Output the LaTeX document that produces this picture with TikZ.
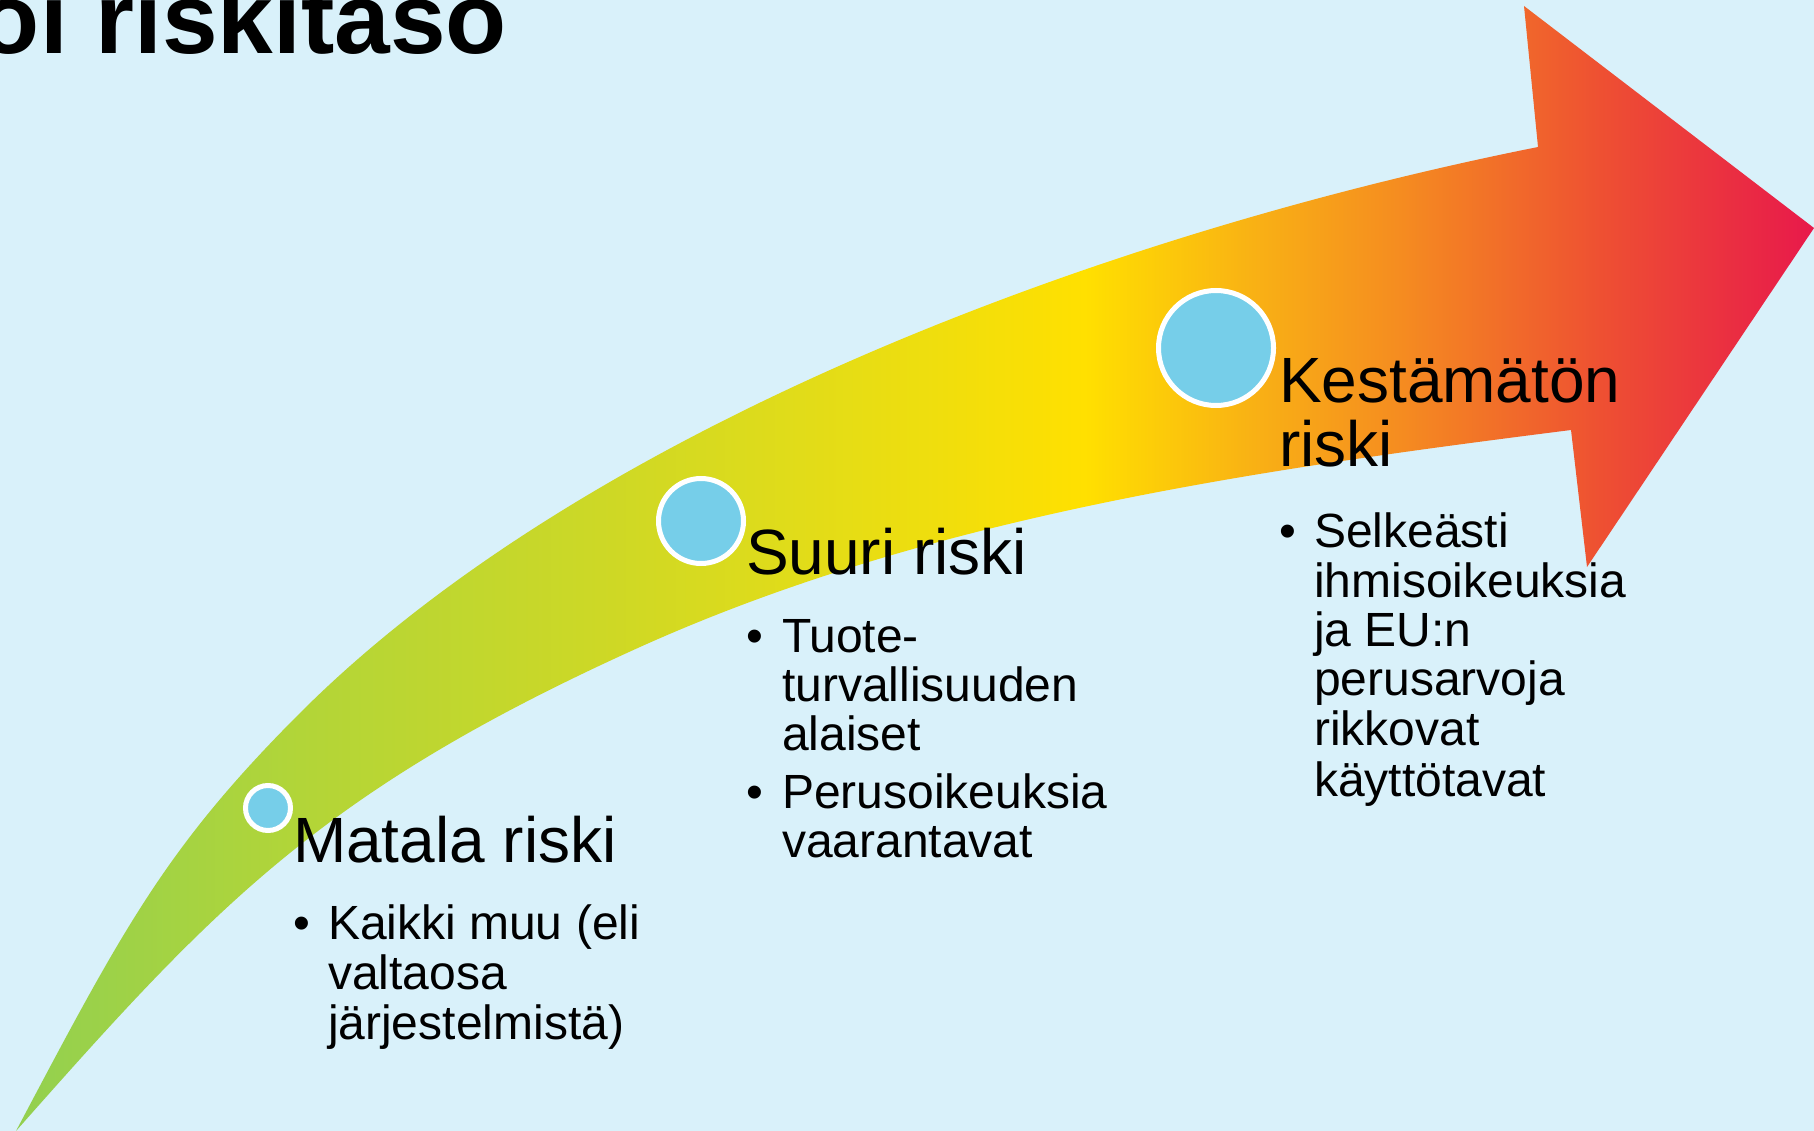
\documentclass[tikz,border=0pt]{standalone}
\usepackage{fontspec}
\setmainfont{Liberation Sans}
\definecolor{bgblue}{RGB}{217,241,250}
\definecolor{dotblue}{RGB}{118,206,233}
\definecolor{g0}{RGB}{146,208,80}
\definecolor{g1}{RGB}{178,213,56}
\definecolor{g2}{RGB}{205,216,38}
\definecolor{g3}{RGB}{225,220,25}
\definecolor{g4}{RGB}{255,224,0}
\definecolor{g5}{RGB}{249,178,20}
\definecolor{g6}{RGB}{245,140,32}
\definecolor{g7}{RGB}{238,80,50}
\definecolor{g8}{RGB}{232,25,75}
\pgfdeclarehorizontalshading{riskshade}{100bp}{color(0bp)=(g0); color(25bp)=(g0); color(32.94bp)=(g1); color(41.28bp)=(g2); color(46.83bp)=(g3); color(54.75bp)=(g4); color(59.33bp)=(g5); color(63.5bp)=(g6); color(69.06bp)=(g7); color(75bp)=(g8); color(100bp)=(g8)}
\tikzset{
  headtxt/.style={anchor=base west, inner sep=0pt, outer sep=0pt, font=\fontsize{64}{66}\selectfont},
  itemtxt/.style={anchor=base west, inner sep=0pt, outer sep=0pt, font=\fontsize{48}{50}\selectfont},
  bultxt/.style={anchor=base, inner sep=0pt, outer sep=0pt, font=\fontsize{48}{50}\selectfont},
  riskdot/.style={circle, fill=dotblue, draw=white, line width=5pt, inner sep=0pt, outer sep=0pt},
  titletxt/.style={anchor=base west, inner sep=0pt, outer sep=0pt, font=\fontsize{100}{102}\selectfont\bfseries}
}
\begin{document}
\begin{tikzpicture}[x=1pt,y=-1pt]
\useasboundingbox (0,0) rectangle (1814,1131);
\fill[bgblue] (0,0) rectangle (1814,1131);
% curved arrow
\begin{scope}
\clip (16,1131)
  .. controls (124,927) and (166,847) .. (300,713)
  .. controls (583,430) and (1097,235) .. (1538,147)
  -- (1524,6) -- (1814,228) -- (1587,567) -- (1571,430)
  .. controls (1255,470) and (931,516) .. (640,647)
  .. controls (321,791) and (215,906) .. (16,1131)
  -- cycle;
\shade[shading=riskshade] (14,0) rectangle (1814,1131);
\end{scope}
% title
\node[titletxt] (title) at (-21,54) {oi riskitaso};
% circles
\node[riskdot, minimum size=45pt] (c1) at (268,808) {};
\node[riskdot, minimum size=85pt] (c2) at (701,521) {};
\node[riskdot, minimum size=115pt] (c3) at (1216,348) {};
% Matala riski
\node[headtxt] (h1) at (293,862) {Matala riski};
\node[bultxt] (b11) at (302,939) {•};
\node[itemtxt] (t11) at (328,939) {Kaikki muu (eli};
\node[itemtxt] (t12) at (328,989) {valtaosa};
\node[itemtxt] (t13) at (328,1039) {järjestelmistä)};
% Suuri riski
\node[headtxt] (h2) at (746,574) {Suuri riski};
\node[bultxt] (b21) at (755,652) {•};
\node[itemtxt] (t21) at (782,652) {Tuote-};
\node[itemtxt] (t22) at (782,701) {turvallisuuden};
\node[itemtxt] (t23) at (782,750) {alaiset};
\node[bultxt] (b22) at (755,808) {•};
\node[itemtxt] (t24) at (782,808) {Perusoikeuksia};
\node[itemtxt] (t25) at (782,857) {vaarantavat};
% Kestamaton riski
\node[headtxt] (h3a) at (1279,402) {Kestämätön};
\node[headtxt] (h3b) at (1279,466) {riski};
\node[bultxt] (b31) at (1288,547) {•};
\node[itemtxt] (t31) at (1314,547) {Selkeästi};
\node[itemtxt] (t32) at (1314,597) {ihmisoikeuksia};
\node[itemtxt] (t33) at (1314,646) {ja EU:n};
\node[itemtxt] (t34) at (1314,695) {perusarvoja};
\node[itemtxt] (t35) at (1314,745) {rikkovat};
\node[itemtxt] (t36) at (1314,796) {käyttötavat};
\end{tikzpicture}
\end{document}
